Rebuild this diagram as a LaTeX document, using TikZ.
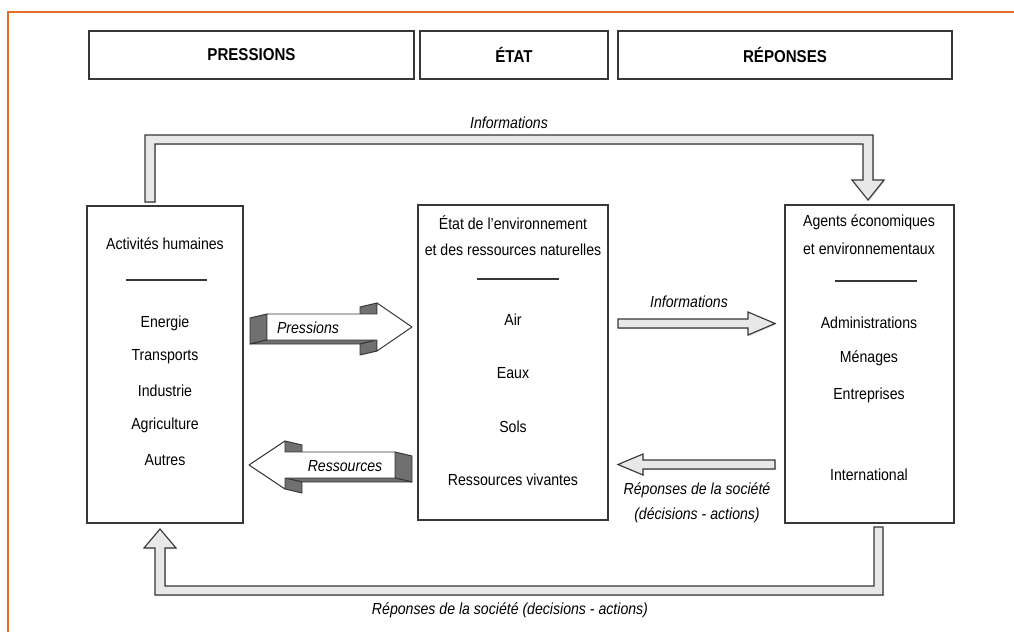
\documentclass[tikz,border=0pt]{standalone}
\usepackage{fontspec}
\setmainfont{Liberation Sans}[FakeStretch=0.88]
\usepackage{tikz}
\usetikzlibrary{shadows}

\definecolor{frameorange}{RGB}{232,112,36}
\definecolor{linegray}{RGB}{55,55,55}
\definecolor{arrowfill}{RGB}{232,232,232}
\definecolor{sidegray}{RGB}{112,112,112}

\begin{document}
\begin{tikzpicture}[x=0.025cm, y=-0.025cm,
    box/.style={draw=linegray, line width=0.8pt, fill=white, inner sep=0pt, outer sep=0pt,
        drop shadow={shadow xshift=1pt, shadow yshift=-1pt, opacity=0.35}},
    header/.style={box, minimum height=1.2cm, font=\bfseries\fontsize{12.2}{14}\selectfont},
    txt/.style={inner sep=0pt, font=\fontsize{11.4}{13}\selectfont},
    lbl/.style={inner sep=0pt, font=\fontsize{11.4}{13}\selectfont\itshape},
    rule/.style={linegray, line width=0.8pt},
    flat/.style={draw=linegray, line width=0.8pt, fill=arrowfill,
        drop shadow={shadow xshift=0.8pt, shadow yshift=-0.8pt, opacity=0.3}},
    face/.style={draw=linegray, line width=0.7pt, fill=white, line join=round},
    side/.style={draw=linegray, line width=0.7pt, fill=sidegray, line join=round}]
    \useasboundingbox (0,0) rectangle (1014,632);

    % orange frame
    \draw[frameorange, line width=2pt] (1014,12) -- (8,12) -- (8,632);

    % header row
    \node[header, minimum width=8.125cm] (pres) at (251.5,55) {PRESSIONS};
    \node[header, minimum width=4.7cm] (etat) at (514,55) {ÉTAT};
    \node[header, minimum width=8.35cm] (rep) at (785,55) {RÉPONSES};

    % top arrow: informations
    \filldraw[flat] (145,202) -- (145,135) -- (873,135) -- (873,180) -- (884,180)
        -- (868,200) -- (852,180) -- (863,180) -- (863,144) -- (155,144) -- (155,202) -- cycle;
    \node[lbl] (infotop) at (509,123) {Informations};

    % bottom arrow: responses
    \filldraw[flat] (874,527) -- (883,527) -- (883,595) -- (155,595) -- (155,548) -- (144,548)
        -- (160,529) -- (176,548) -- (165,548) -- (165,586) -- (874,586) -- cycle;
    \node[lbl] (repbottom) at (510,610) {Réponses de la société (decisions - actions)};

    % human activities
    \node[box, minimum width=3.9cm, minimum height=7.925cm] (act) at (165,364.5) {};
    \node[txt] (acttitle) at (165,244) {Activités humaines};
    \draw[rule] (126,280) -- (207,280);
    \node[txt] (energie) at (165,323) {Energie};
    \node[txt] (transp) at (165,357) {Transports};
    \node[txt] (indus) at (165,391) {Industrie};
    \node[txt] (agri) at (165,425) {Agriculture};
    \node[txt] (autres) at (165,460) {Autres};

    % state of the environment
    \node[box, minimum width=4.75cm, minimum height=7.875cm] (env) at (513,362.5) {};
    \node[txt] (envtitle) at (513,223) {État de l'environnement};
    \node[txt] (envtitleb) at (513,250) {et des ressources naturelles};
    \draw[rule] (477,279) -- (559,279);
    \node[txt] (air) at (513,320) {Air};
    \node[txt] (eaux) at (513,373) {Eaux};
    \node[txt] (sols) at (513,427) {Sols};
    \node[txt] (vivant) at (513,480) {Ressources vivantes};

    % agents
    \node[box, minimum width=4.225cm, minimum height=7.95cm] (agents) at (869.5,364) {};
    \node[txt] (agtitle) at (869,222) {Agents économiques};
    \node[txt] (agtitleb) at (869,249) {et environnementaux};
    \draw[rule] (835,281) -- (917,281);
    \node[txt] (admin) at (869,323) {Administrations};
    \node[txt] (menages) at (869,358) {Ménages};
    \node[txt] (entr) at (869,395) {Entreprises};
    \node[txt] (inter) at (869,475) {International};

    % pressions (3d arrow)
    \filldraw[side] (267,314) -- (267,340) -- (250,344) -- (250,318) -- cycle;
    \filldraw[side] (267,340) -- (377,340) -- (360,344) -- (250,344) -- cycle;
    \filldraw[side] (377,303) -- (377,314) -- (360,318) -- (360,307) -- cycle;
    \filldraw[side] (377,340) -- (377,351) -- (360,355) -- (360,344) -- cycle;
    \filldraw[face] (267,314) -- (377,314) -- (377,303) -- (412,327) -- (377,351)
        -- (377,340) -- (267,340) -- cycle;
    \node[lbl] (presslbl) at (308,328) {Pressions};

    % ressources (3d arrow)
    \filldraw[side] (395,452) -- (395,478) -- (412,482) -- (412,456) -- cycle;
    \filldraw[side] (285,478) -- (395,478) -- (412,482) -- (302,482) -- cycle;
    \filldraw[side] (285,441) -- (285,452) -- (302,456) -- (302,445) -- cycle;
    \filldraw[side] (285,478) -- (285,489) -- (302,493) -- (302,482) -- cycle;
    \filldraw[face] (395,452) -- (285,452) -- (285,441) -- (249,465) -- (285,489)
        -- (285,478) -- (395,478) -- cycle;
    \node[lbl] (resslbl) at (345,466) {Ressources};

    % informations (env -> agents)
    \filldraw[flat] (618,319) -- (748,319) -- (748,312) -- (775,323.5) -- (748,335)
        -- (748,328) -- (618,328) -- cycle;
    \node[lbl] (infomid) at (689,302) {Informations};

    % responses (agents -> env)
    \filldraw[flat] (775,460) -- (643,460) -- (643,454) -- (618,464.5) -- (643,475)
        -- (643,469) -- (775,469) -- cycle;
    \node[lbl] (repmid) at (697,490) {Réponses de la société};
    \node[lbl] (repmidb) at (697,515) {(décisions - actions)};
\end{tikzpicture}
\end{document}
